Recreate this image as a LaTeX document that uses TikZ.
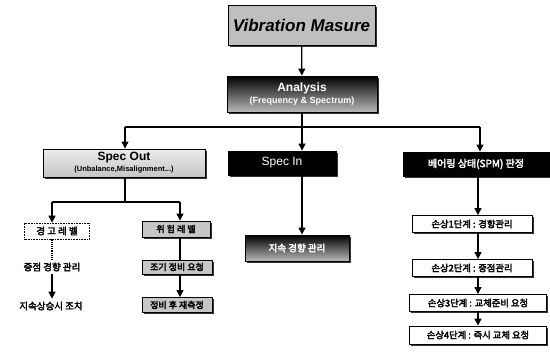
\documentclass[tikz,border=0pt]{standalone}
\usepackage{fontspec}
\setmainfont{Liberation Sans}
\newfontfamily\kr[FakeBold=3]{Noto Sans CJK KR}
\usetikzlibrary{shadows,arrows.meta}
\begin{document}
\begin{tikzpicture}[x=1pt,y=-1pt,
  conn/.style={line width=1.2pt,draw=black},
  arr/.style={conn,-{Triangle[length=7pt,width=7pt]}},
  box/.style={draw=black,line width=0.9pt,inner sep=1pt,align=center,
     drop shadow={shadow xshift=1.5pt,shadow yshift=-1.5pt,fill=black,opacity=0.8}},
  grayb/.style={box,fill=gray!45,font=\kr\fontsize{9}{10}\selectfont},
  whiteb/.style={box,fill=white,font=\kr\fontsize{9.3}{10}\selectfont},
  dotb/.style={draw=black,densely dotted,line width=0.6pt,fill=white,inner sep=1pt,
     font=\kr\fontsize{9.5}{10}\selectfont},
  blackb/.style={box,fill=black,text=white,font=\kr\fontsize{10}{11}\selectfont}]
\useasboundingbox (0,0) rectangle (550,356);

% top
\node[box,fill=gray!50,minimum width=147pt,minimum height=40pt,
  font=\bfseries\itshape\fontsize{17}{18}\selectfont] (vib) at (301.5,25) {Vibration Masure};
\node[box,top color=black,bottom color=gray!55,text=white,minimum width=150pt,minimum height=36pt,
  font=\bfseries\fontsize{12}{13}\selectfont] (ana) at (302,94)
  {Analysis\\[-1pt]{\fontsize{9}{10}\selectfont (Frequency \& Spectrum)}};
\draw[arr] (vib) -- (ana);

% level 2
\node[box,top color=gray!15,bottom color=gray!45,minimum width=162pt,minimum height=28pt,
  font=\bfseries\fontsize{12}{13}\selectfont] (so) at (124,163)
  {Spec Out\\[-2pt]{\fontsize{7.5}{8}\selectfont (Unbalance,Misalignment...)}};
\node[blackb,minimum width=108pt,minimum height=24pt,font=\fontsize{12}{13}\selectfont] (si) at (282,163) {Spec In};
\node[blackb,minimum width=146pt,minimum height=24pt] (br) at (476,164) {베어링 상태(SPM) 판정};

\coordinate (busL) at (125,127);
\coordinate (busR) at (480,127);
\coordinate (busC) at (302,127);
\draw[conn] (busL) -- (busR);
\draw[conn] (ana.south -| busC) -- (busC);
\draw[arr] (busL) -- (busL |- so.north);
\draw[arr] (busC) -- (busC |- si.north);
\draw[arr] (busR) -- (busR |- br.north);

% spec in child
\node[box,top color=black,bottom color=gray!55,text=white,minimum width=104pt,minimum height=26pt,
  font=\kr\fontsize{9.5}{10}\selectfont] (si1) at (297,248) {지속 경향 관리};
\draw[arr] (si.south -| busC) -- (busC |- si1.north);

% spec out children
\coordinate (sob) at (125,202);
\coordinate (lx) at (52,202);
\coordinate (mx) at (180,202);
\draw[conn] (so.south -| sob) -- (sob);
\draw[conn] (lx) -- (mx);

\node[dotb,minimum width=65pt,minimum height=16pt] (w1) at (57,231) {경 고 레 벨};
\node[dotb,draw=none,minimum width=78pt,minimum height=14pt] (w2) at (52,267) {중점 경향 관리};
\node[dotb,draw=none,minimum width=84pt,minimum height=14pt] (w3) at (51,306) {지속상승시 조치};
\draw[arr] (lx) -- (lx |- w1.north);
\draw[conn,densely dotted] (lx |- w1.south) -- (lx |- w2.north);
\draw[arr] (lx |- w2.south) -- (lx |- w3.north);

\node[grayb,minimum width=68pt,minimum height=16pt] (d1) at (176,229) {위 험 레 벨};
\node[grayb,minimum width=70pt,minimum height=14pt] (d2) at (177,267) {조기 정비 요청};
\node[grayb,minimum width=70pt,minimum height=15pt] (d3) at (177,305) {정비 후 재측정};
\draw[arr] (mx) -- (mx |- d1.north);
\draw[conn] (mx |- d1.south) -- (mx |- d2.north);
\draw[arr] (mx |- d2.south) -- (mx |- d3.north);

% bearing children
\coordinate (rx) at (478,202);
\node[whiteb,minimum width=120pt,minimum height=17pt] (b1) at (472,224) {손상1단계 : 경향관리};
\node[whiteb,minimum width=120pt,minimum height=17pt] (b2) at (472,268) {손상2단계 : 중점관리};
\node[whiteb,minimum width=137pt,minimum height=17pt] (b3) at (478,303) {손상3단계 : 교체준비 요청};
\node[whiteb,minimum width=137pt,minimum height=18pt] (b4) at (478,335) {손상4단계 : 즉시 교체 요청};
\draw[arr] (br.south -| rx) -- (rx |- b1.north);
\draw[arr] (rx |- b1.south) -- (rx |- b2.north);
\draw[arr] (rx |- b2.south) -- (rx |- b3.north);
\draw[arr] (rx |- b3.south) -- (rx |- b4.north);
\end{tikzpicture}
\end{document}
